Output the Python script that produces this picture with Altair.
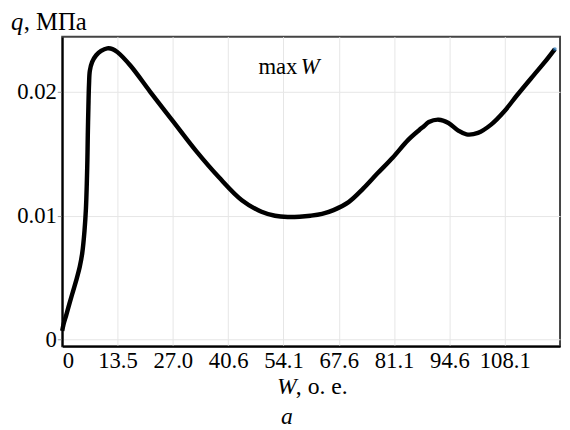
import altair as alt
import pandas as pd

# W (o. e.) and q (MPa)
W = [0.0, 0.3, 1.0, 1.85, 2.64, 3.44, 4.3, 4.9, 5.45, 5.8, 6.0, 6.15, 6.25, 6.4, 6.55,
     6.75, 7.3, 8.3, 9.5, 11.0, 12.3, 13.5, 16.7, 21.5, 27.1, 32.7, 38.3, 43.9, 48.7,
     52.0, 55.1, 58.0, 60.7, 63.5, 66.3, 70.0, 73.6, 77.0, 80.8, 84.5, 87.2, 88.4, 89.6,
     92.0, 94.4, 96.8, 98.8, 101.6, 104.8, 108.0, 111.2, 115.2, 117.8, 120.4]
Q = [0.00070, 0.00120, 0.00200, 0.00300, 0.00390, 0.00480, 0.00590, 0.00700, 0.00880,
     0.01060, 0.01250, 0.01450, 0.01650, 0.01880, 0.02060,
     0.02170, 0.02240, 0.02295, 0.02330, 0.02350, 0.02345, 0.02320, 0.02210, 0.02000,
     0.01761, 0.01523, 0.01310, 0.01125, 0.01032,
     0.01000, 0.00990, 0.00992, 0.01000, 0.01015, 0.01045, 0.01110, 0.01220, 0.01340,
     0.01470, 0.01610, 0.01690, 0.01722, 0.01756,
     0.01775, 0.01748, 0.01687, 0.01656, 0.01668, 0.01735, 0.01841, 0.01974, 0.02133,
     0.02235, 0.02345]

x_ticks = [0, 13.518, 27.036, 40.554, 54.072, 67.59, 81.108, 94.626, 108.144]
y_ticks = [0, 0.01, 0.02]

df = pd.DataFrame({"W": W, "q": Q})
FONT = "Liberation Serif"

xscale = alt.Scale(domain=[0, 121.66], nice=False, zero=False)
yscale = alt.Scale(domain=[-0.00053, 0.02445], nice=False, zero=False)

line = alt.Chart(df).mark_line(color="black", strokeWidth=4.5, interpolate="catmull-rom").encode(
    x=alt.X("W:Q", scale=xscale,
            axis=alt.Axis(values=x_ticks, title=None, ticks=False, labelPadding=4,
                          labelExpr="datum.value == 0 ? '0' : format(datum.value, '.1f')")),
    y=alt.Y("q:Q", scale=yscale,
            axis=alt.Axis(values=y_ticks, title=None, tickSize=5, tickColor="#999",
                          labelPadding=1, labelExpr="format(datum.value, '~g')")),
)

end_dot = alt.Chart(df.tail(1)).mark_point(color="#1f6fb4", filled=True, size=14).encode(
    x=alt.X("W:Q", scale=xscale), y=alt.Y("q:Q", scale=yscale))

def txt(t, x, y, italic=False, size=24):
    return alt.Chart(pd.DataFrame({"t": [t]})).mark_text(
        font=FONT, fontSize=size, fontStyle="italic" if italic else "normal",
        align="left", baseline="alphabetic", color="black"
    ).encode(x=alt.value(x), y=alt.value(y), text="t:N")

texts = [
    txt("q", -52, -7, True, size=25), txt(", МПа", -39, -7, size=25),
    txt("max ", 199, 38, size=23), txt("W", 242, 38, True, size=23),
    txt("W", 218, 363, True), txt(", o. e.", 237, 363),
    txt("a", 222, 393, True),
]

chart = alt.layer(line, end_dot, *texts).properties(
    width=505, height=314,
    autosize=alt.AutoSizeParams(type="none"),
    padding={"left": 55, "top": 26, "right": 2, "bottom": 84},
).configure_view(stroke="#444", strokeWidth=2).configure_axis(
    labelFont=FONT, labelFontSize=23, labelColor="black",
    domainColor="black", domainWidth=2,
    gridColor="#e6e6e6", gridWidth=1,
)

chart.save("out.html", embed_options={"renderer": "svg", "actions": False})
